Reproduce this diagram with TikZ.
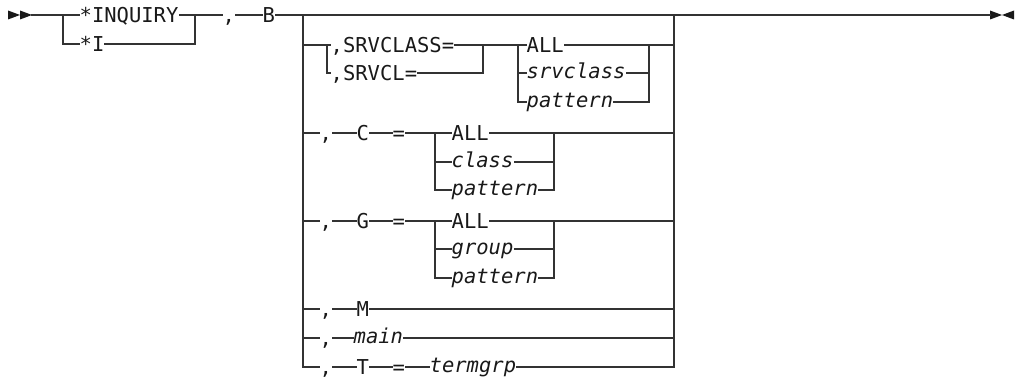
\documentclass[tikz,border=0pt]{standalone}
\usepackage{fontspec}
\setmonofont{DejaVu Sans Mono}
\begin{document}
\begin{tikzpicture}[x=1pt,y=-1pt,
  rr/.style={draw=black!80, line width=1.2pt, line cap=rect},
  kw/.style={font=\ttfamily\fontsize{20.5}{24}\selectfont, text=black!90, inner xsep=0.5pt, inner ysep=0pt, text height=15pt, text depth=0pt, anchor=west},
  var/.style={kw, font=\ttfamily\itshape\fontsize{20.5}{24}\selectfont, text height=11.2pt},
  tip/.style={fill=black!90}]
\useasboundingbox (0,0) rectangle (1016,377);
% terminators
\fill[tip] (8,10.5) -- (20,15) -- (8,19.5) -- cycle;
\fill[tip] (20,10.5) -- (32,15) -- (20,19.5) -- cycle;
\fill[tip] (990,10.5) -- (1002,15) -- (990,19.5) -- cycle;
\fill[tip] (1014,10.5) -- (1002,15) -- (1014,19.5) -- cycle;
\coordinate (S) at (32,15);
\coordinate (E) at (990,15);
% first choice
\node[kw] (inq) at (79,15) {*INQUIRY};
\node[kw] (i) at (79,44) {*I};
\coordinate (f1) at (63,15); \coordinate (f1b) at (63,44);
\coordinate (j1) at (195,15); \coordinate (j1b) at (195,44);
\node[kw] (c0) at (222,15) {,};
\node[kw] (b) at (262,15) {B};
\coordinate (L) at (303,15); \coordinate (Lb) at (303,367);
\coordinate (R) at (674,15); \coordinate (Rb) at (674,367);
\draw[rr] (S) -- (f1) -- (inq.west);
\draw[rr] (f1) -- (f1b) -- (i.west);
\draw[rr] (inq.east) -- (j1) -- (c0.west);
\draw[rr] (i.east) -- (j1b) -- (j1);
\draw[rr] (c0.east) -- (b.west);
\draw[rr] (b.east) -- (L) -- (R) -- (E);
\draw[rr] (L) -- (Lb);
\draw[rr] (R) -- (Rb);
% SRVCLASS row
\node[kw] (srvclass) at (330,45) {,SRVCLASS=};
\node[kw] (srvcl) at (330,73) {,SRVCL=};
\node[kw] (all1) at (526,45) {ALL};
\node[var] (sc) at (526,73) {srvclass};
\node[var] (pat1) at (526,102) {pattern};
\coordinate (a1) at (303,45); \coordinate (a2) at (327,45); \coordinate (a2b) at (327,73);
\coordinate (a3) at (483,45); \coordinate (a3b) at (483,73);
\coordinate (a4) at (518,45); \coordinate (a4b) at (518,73); \coordinate (a4c) at (518,102);
\coordinate (a5) at (649,45); \coordinate (a5b) at (649,73); \coordinate (a5c) at (649,102);
\coordinate (a6) at (674,45);
\draw[rr] (a1) -- (a2) -- (srvclass.west);
\draw[rr] (a2) -- (a2b) -- (srvcl.west);
\draw[rr] (srvclass.east) -- (a3) -- (a4) -- (all1.west);
\draw[rr] (srvcl.east) -- (a3b) -- (a3);
\draw[rr] (a4) -- (a4c) -- (pat1.west);
\draw[rr] (a4b) -- (sc.west);
\draw[rr] (all1.east) -- (a5) -- (a6);
\draw[rr] (sc.east) -- (a5b);
\draw[rr] (pat1.east) -- (a5c) -- (a5);
% C row
\node[kw] (cc) at (319,133) {,};
\node[kw] (cl) at (356,133) {C};
\node[kw] (ce) at (392,133) {=};
\node[kw] (call) at (451,133) {ALL};
\node[var] (ccl) at (451,162) {class};
\node[var] (cpat) at (451,190) {pattern};
\coordinate (b1) at (303,133); \coordinate (b2) at (435,133); \coordinate (b2b) at (435,162); \coordinate (b2c) at (435,190);
\coordinate (b3) at (554,133); \coordinate (b3b) at (554,162); \coordinate (b3c) at (554,190);
\coordinate (b4) at (674,133);
\draw[rr] (b1) -- (cc.west);
\draw[rr] (cc.east) -- (cl.west);
\draw[rr] (cl.east) -- (ce.west);
\draw[rr] (ce.east) -- (b2) -- (call.west);
\draw[rr] (b2) -- (b2c) -- (cpat.west);
\draw[rr] (b2b) -- (ccl.west);
\draw[rr] (call.east) -- (b3) -- (b4);
\draw[rr] (ccl.east) -- (b3b);
\draw[rr] (cpat.east) -- (b3c) -- (b3);
% G row
\node[kw] (gc) at (319,221) {,};
\node[kw] (gl) at (356,221) {G};
\node[kw] (ge) at (392,221) {=};
\node[kw] (gall) at (451,221) {ALL};
\node[var] (ggr) at (451,249) {group};
\node[var] (gpat) at (451,278) {pattern};
\coordinate (g1) at (303,221); \coordinate (g2) at (435,221); \coordinate (g2b) at (435,249); \coordinate (g2c) at (435,278);
\coordinate (g3) at (554,221); \coordinate (g3b) at (554,249); \coordinate (g3c) at (554,278);
\coordinate (g4) at (674,221);
\draw[rr] (g1) -- (gc.west);
\draw[rr] (gc.east) -- (gl.west);
\draw[rr] (gl.east) -- (ge.west);
\draw[rr] (ge.east) -- (g2) -- (gall.west);
\draw[rr] (g2) -- (g2c) -- (gpat.west);
\draw[rr] (g2b) -- (ggr.west);
\draw[rr] (gall.east) -- (g3) -- (g4);
\draw[rr] (ggr.east) -- (g3b);
\draw[rr] (gpat.east) -- (g3c) -- (g3);
% M row
\node[kw] (mc) at (319,309) {,};
\node[kw] (ml) at (356,309) {M};
\coordinate (m1) at (303,309); \coordinate (m2) at (674,309);
\draw[rr] (m1) -- (mc.west);
\draw[rr] (mc.east) -- (ml.west);
\draw[rr] (ml.east) -- (m2);
% main row
\node[kw] (nc) at (319,338) {,};
\node[var] (nm) at (353,338) {main};
\coordinate (n1) at (303,338); \coordinate (n2) at (674,338);
\draw[rr] (n1) -- (nc.west);
\draw[rr] (nc.east) -- (nm.west);
\draw[rr] (nm.east) -- (n2);
% T row
\node[kw] (tc) at (319,367) {,};
\node[kw] (tl) at (356,367) {T};
\node[kw] (te) at (392,367) {=};
\node[var] (tg) at (429,367) {termgrp};
\draw[rr] (Lb) -- (tc.west);
\draw[rr] (tc.east) -- (tl.west);
\draw[rr] (tl.east) -- (te.west);
\draw[rr] (te.east) -- (tg.west);
\draw[rr] (tg.east) -- (Rb);
\end{tikzpicture}
\end{document}
